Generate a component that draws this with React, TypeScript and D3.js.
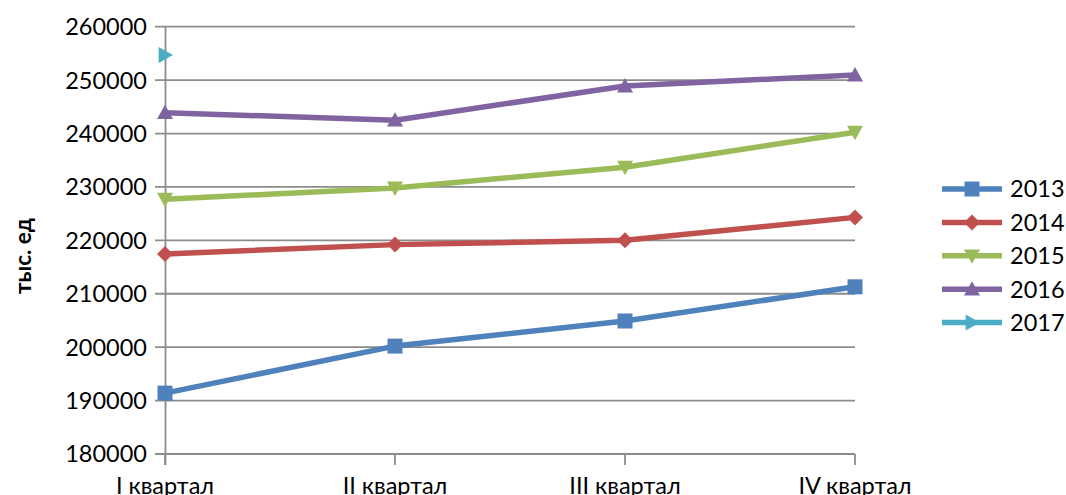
import React from "react";
import * as d3 from "d3";

const categories = ["I квартал", "II квартал", "III квартал", "IV квартал"];
const years = ["2013", "2014", "2015", "2016", "2017"];
const s2013 = [191400, 200200, 204900, 211300];
const s2014 = [217450, 219200, 220000, 224300];
const s2015 = [227700, 229800, 233700, 240250];
const s2016 = [243900, 242500, 248900, 250950];
const s2017 = [254700, null, null, null];
const yTicks = [180000, 190000, 200000, 210000, 220000, 230000, 240000, 250000, 260000];

const seriesValues = [s2013, s2014, s2015, s2016, s2017];
const colors = ["#4F81BD", "#C0504D", "#9BBB59", "#8064A2", "#4BACC6"];
const shapes = ["square", "diamond", "down", "up", "right"];

const W = 1066, H = 495;
const FONT = "Lato, 'Noto Sans', sans-serif";

function markerPath(shape: string, s: number) {
  const h = s / 2;
  switch (shape) {
    case "square": return `M${-h},${-h}H${h}V${h}H${-h}Z`;
    case "diamond": return `M0,${-h}L${h},0L0,${h}L${-h},0Z`;
    case "down": return `M${-h},${-h * 0.8}L${h},${-h * 0.8}L0,${h}Z`;
    case "up": return `M${-h},${h * 0.8}L${h},${h * 0.8}L0,${-h}Z`;
    case "right": return `M${-h * 0.8},${-h}L${h},0L${-h * 0.8},${h}Z`;
  }
  return "";
}

export default function App() {
  const x = d3.scalePoint<string>().domain(categories).range([165, 855]);
  const y = d3.scaleLinear().domain([180000, 260000]).range([454, 26.7]);
  const line = d3.line<number | null>()
    .defined((d) => d != null)
    .x((_, i) => x(categories[i])!)
    .y((d) => y(d as number));
  const markerSize = [15, 16, 16, 16, 16];
  return (
    <svg width={W} height={H} style={{ position: "absolute", left: 0, top: 0, background: "#fff" }}>
      {yTicks.map((t) => (
        <g key={t}>
          <line x1={155} x2={855} y1={y(t)} y2={y(t)} stroke="#8c8c8c" strokeWidth={1.8} />
          <text x={147} y={y(t)} dy="0.36em" textAnchor="end" fontFamily={FONT} fontSize={23.5} fill="#000">{t}</text>
        </g>
      ))}
      <line x1={165.5} x2={165.5} y1={26.7} y2={465} stroke="#8c8c8c" strokeWidth={1.8} />
      {categories.map((c) => (
        <g key={c}>
          <line x1={x(c)!} x2={x(c)!} y1={454} y2={465} stroke="#8c8c8c" strokeWidth={1.8} />
          <text x={x(c)!} y={494} textAnchor="middle" fontFamily={FONT} fontSize={23.5} fill="#000">{c}</text>
        </g>
      ))}
      <text transform="translate(31,256) rotate(-90)" textAnchor="middle" fontFamily={FONT} fontWeight="bold" fontSize={22.5} fill="#000">тыс. ед</text>
      {seriesValues.map((vals, si) => (
        <g key={years[si]}>
          <path d={line(vals) || ""} fill="none" stroke={colors[si]} strokeWidth={5.5} strokeLinejoin="round" />
          {vals.map((v, i) => v == null ? null : (
            <path key={i} d={markerPath(shapes[si], markerSize[si])} transform={`translate(${x(categories[i])},${y(v)})`} fill={colors[si]} />
          ))}
        </g>
      ))}
      {years.map((yr, i) => {
        const ly = 189 + i * 33.4;
        return (
          <g key={yr}>
            <line x1={942} x2={1002} y1={ly} y2={ly} stroke={colors[i]} strokeWidth={5.5} />
            <path d={markerPath(shapes[i], markerSize[i])} transform={`translate(972,${ly})`} fill={colors[i]} />
            <text x={1010} y={ly} dy="0.36em" fontFamily={FONT} fontSize={23.5} fill="#000">{yr}</text>
          </g>
        );
      })}
    </svg>
  );
}
